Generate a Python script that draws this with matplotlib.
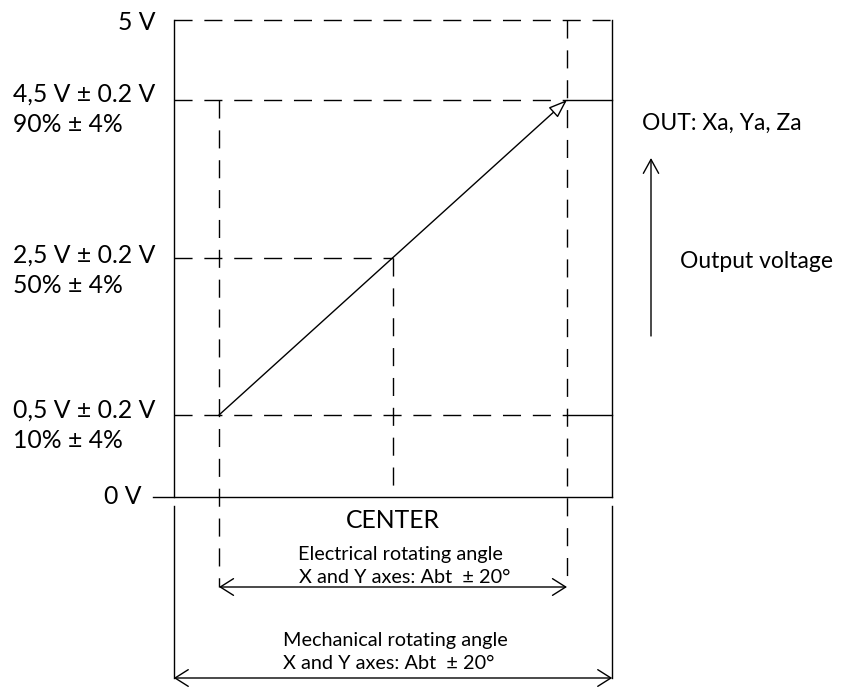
import numpy as np
import matplotlib
matplotlib.use("Agg")
from matplotlib import pyplot as plt

plt.rcParams['font.family'] = ['Lato', 'DejaVu Sans']

# output levels (volts) and their labels
levels_v = [0.0, 0.5, 2.5, 4.5, 5.0]
level_main = ["0 V", "0,5 V ± 0.2 V", "2,5 V ± 0.2 V", "4,5 V ± 0.2 V", "5 V"]
level_pct = ["", "10% ± 4%", "50% ± 4%", "90% ± 4%", ""]

# rotating angles (degrees)
center_deg = 0.0
elec_half = 20.0
mech_half = 25.2
elec_text = ["Electrical rotating angle", "X and Y axes: Abt  ± 20°"]
mech_text = ["Mechanical rotating angle", "X and Y axes: Abt  ± 20°"]

# schematic scale: volts -> pixel rows, degrees -> pixel columns
V_ROWS = [497, 415, 258, 100, 20]
def vy(v):
    return np.interp(v, levels_v, V_ROWS)

def ax_x(d):
    return 393 + 8.7 * d

fig = plt.figure(figsize=(8.52, 6.88), dpi=100)
ax = fig.add_axes([0, 0, 1, 1])
ax.set_xlim(0, 852)
ax.set_ylim(688, 0)
ax.axis('off')

K = 'black'
LW = 1.0
DASH = (0, (13, 8.5))

xl, xr = ax_x(-mech_half), ax_x(mech_half)
xe1, xe2 = ax_x(-elec_half), ax_x(elec_half)
xc = ax_x(center_deg)
y0, y05, y25, y45, y5 = [vy(v) for v in levels_v]
y_elec = 587
y_mech = 678

# box
ax.plot([xl, xl], [y5, y0], color=K, lw=LW)
ax.plot([xr, xr], [y5, y0], color=K, lw=LW)
ax.plot([153, xr], [y0, y0], color=K, lw=LW)
ax.plot([xl, xr], [y5, y5], color=K, lw=LW, linestyle=DASH)

# level lines
ax.plot([xl, xe2], [y45, y45], color=K, lw=LW, linestyle=DASH)
ax.plot([xe2, xr], [y45, y45], color=K, lw=LW)
ax.plot([xl, xe2], [y05, y05], color=K, lw=LW, linestyle=DASH)
ax.plot([xe2, xr], [y05, y05], color=K, lw=LW)
ax.plot([xl, xc], [y25, y25], color=K, lw=LW, linestyle=DASH)

# vertical dashed guides
ax.plot([xe1, xe1], [y45, y_elec], color=K, lw=LW, linestyle=DASH)
ax.plot([xe2, xe2], [y5, y_elec], color=K, lw=LW, linestyle=DASH)
ax.plot([xc, xc], [y25, y0], color=K, lw=LW, linestyle=DASH)

# output characteristic
ax.annotate("", xy=(xe2, y45), xytext=(xe1, y05),
            arrowprops=dict(arrowstyle="-|>,head_length=1.15,head_width=0.42",
                            fc='white', ec=K, lw=LW, shrinkA=0, shrinkB=0))

# mechanical extension lines
ax.plot([xl, xl], [506, y_mech], color=K, lw=LW)
ax.plot([xr, xr], [506, y_mech], color=K, lw=LW)

# dimension arrows
for (a, b, y) in [(xe1, xe2, y_elec), (xl, xr, y_mech)]:
    ax.annotate("", xy=(b, y), xytext=(a, y),
                arrowprops=dict(arrowstyle="<->,head_length=0.95,head_width=0.6",
                                color=K, lw=LW, shrinkA=0, shrinkB=0))

# output voltage arrow
ax.annotate("", xy=(651, 158), xytext=(651, 336),
            arrowprops=dict(arrowstyle="->,head_length=1.0,head_width=0.55",
                            color=K, lw=LW, shrinkA=0, shrinkB=0))

FS = 17.8
# level labels
ax.text(155, y5, level_main[4], fontsize=FS, ha='right', va='center_baseline')
ax.text(142, y0 - 3, level_main[0], fontsize=FS, ha='right', va='center_baseline')
for i, base in [(3, 102), (2, 263), (1, 418)]:
    ax.text(13, base, level_main[i], fontsize=FS, ha='left', va='baseline')
    ax.text(13, base + 30, level_pct[i], fontsize=FS, ha='left', va='baseline')

ax.text(642, 130, "OUT: Xa, Ya, Za", fontsize=16.5, ha='left', va='baseline')
ax.text(680, 268, "Output voltage", fontsize=16.5, ha='left', va='baseline')

ax.text(xc, 528, "CENTER", fontsize=FS, ha='center', va='baseline')
ax.text(298, 560, elec_text[0], fontsize=14.3, ha='left', va='baseline')
ax.text(299, 583, elec_text[1], fontsize=14.3, ha='left', va='baseline')
ax.text(283, 646, mech_text[0], fontsize=14.3, ha='left', va='baseline')
ax.text(283, 669, mech_text[1], fontsize=14.3, ha='left', va='baseline')

fig.savefig("out.png", dpi=100, facecolor='white')
